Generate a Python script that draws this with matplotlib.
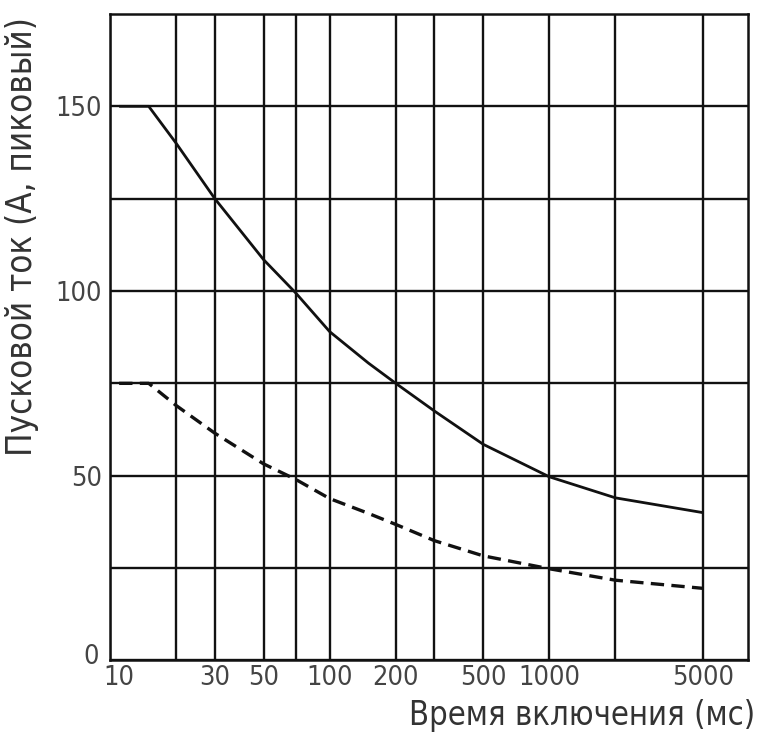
import matplotlib
matplotlib.use("Agg")
import matplotlib.pyplot as plt
from matplotlib.ticker import FixedLocator, NullFormatter, FixedFormatter
from matplotlib.transforms import ScaledTranslation

# Data
time_solid = [11, 15, 20, 30, 50, 70, 100, 150, 200, 300, 500, 1000, 2000, 5000]
current_solid = [150, 150, 140, 125, 108.5, 99.5, 89, 80.5, 75, 67.5, 58.5, 49.7, 44, 40]

time_dashed = [11, 15, 20, 30, 50, 70, 100, 150, 200, 300, 500, 1000, 2000, 5000]
current_dashed = [75, 75, 69, 61.5, 53.2, 49, 43.8, 39.8, 36.8, 32.4, 28.3, 24.8, 21.7, 19.5]

x_major = [10, 30, 50, 100, 200, 500, 1000, 5000]
x_major_labels = ["10", "30", "50", "100", "200", "500", "1000", "5000"]
x_minor = [20, 70, 300, 2000]
y_major = [0, 50, 100, 150]
y_minor = [25, 75, 125]

plt.rcParams["font.family"] = ["DejaVu Sans"]
plt.rcParams["font.stretch"] = "condensed"

fig = plt.figure(figsize=(7.59, 7.37), dpi=100)
ax = fig.add_axes([0.145, 0.104, 0.840, 0.877])

ax.plot(time_solid, current_solid, color="#111111", lw=2.0, solid_capstyle="butt", zorder=3)
ax.plot(time_dashed, current_dashed, color="#111111", lw=2.4, dashes=(4, 2.2), zorder=3)

ax.set_xscale("log")
ax.set_xlim(10, 8000)
ax.set_ylim(0, 175)

ax.xaxis.set_major_locator(FixedLocator(x_major))
ax.xaxis.set_major_formatter(FixedFormatter(x_major_labels))
ax.xaxis.set_minor_locator(FixedLocator(x_minor))
ax.xaxis.set_minor_formatter(NullFormatter())
ax.yaxis.set_major_locator(FixedLocator(y_major))
ax.yaxis.set_minor_locator(FixedLocator(y_minor))

ax.grid(True, which="both", color="#111111", lw=1.7, zorder=1)
ax.set_axisbelow(True)
for s in ax.spines.values():
    s.set_color("#111111")
    s.set_linewidth(1.8)

ax.tick_params(which="both", length=0, labelsize=19.5, labelcolor="#444444")
ax.tick_params(axis="x", pad=3)
ax.tick_params(axis="y", pad=6)

# nudge first x label right and "0" label up so they don't collide
fig.canvas.draw()
xl = ax.get_xticklabels()
xl[0].set_transform(xl[0].get_transform() + ScaledTranslation(9 / 100, 0, fig.dpi_scale_trans))
yl = ax.get_yticklabels()
yl[0].set_transform(yl[0].get_transform() + ScaledTranslation(-3 / 100, 6 / 100, fig.dpi_scale_trans))

ax.set_xlabel("Время включения (мс)", fontsize=23.5, color="#333333")
ax.xaxis.set_label_coords(1.012, -0.06)
ax.xaxis.label.set_horizontalalignment("right")
ax.set_ylabel("Пусковой ток (А, пиковый)", fontsize=25, color="#333333")
ax.yaxis.set_label_coords(-0.112, 0.655)

fig.savefig("out.png", dpi=100, facecolor="white")
